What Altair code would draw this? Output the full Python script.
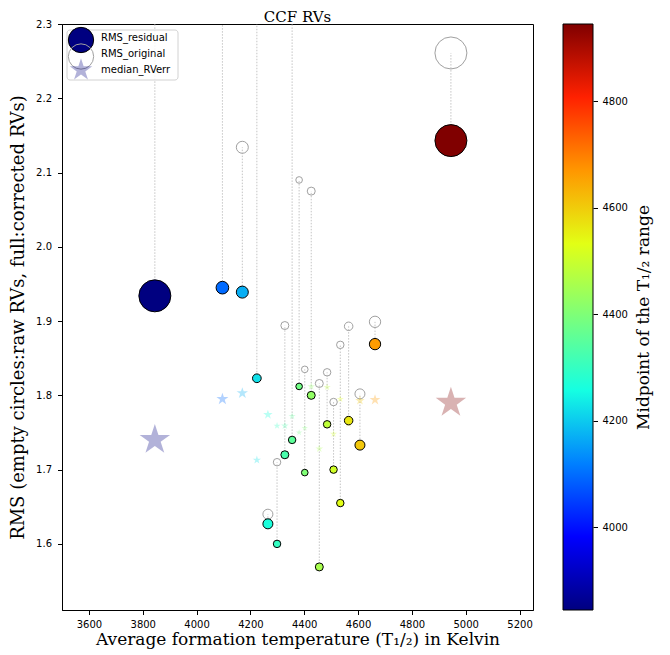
import altair as alt
import pandas as pd
import numpy as np

# Midpoint of each T_1/2 range (K)
temps = [3845, 4096, 4170, 4224, 4265, 4299, 4328, 4355, 4381, 4402,
         4426, 4456, 4485, 4509, 4534, 4565, 4607, 4663, 4945]
# RMS of corrected RVs (filled circles)
rms_residual = [1.934, 1.945, 1.939, 1.823, 1.627, 1.600, 1.720, 1.740, 1.812, 1.696,
                1.800, 1.569, 1.761, 1.700, 1.655, 1.766, 1.733, 1.869, 2.143]
# RMS of raw RVs (empty circles); several lie above the plotted range
rms_original = [2.45, 2.36, 2.134, 2.33, 1.640, 1.710, 1.894, 2.32, 2.090, 1.835,
                2.075, 1.816, 1.831, 1.791, 1.868, 1.893, 1.802, 1.899, 2.261]
# median RV error (stars)
median_rverr = [1.740, 1.795, 1.803, 1.713, 1.774, 1.759, 1.759, 1.772, 1.750, 1.756,
                1.812, 1.728, 1.811, 1.748, 1.795, 1.762, 1.793, 1.794, 1.790]
# relative weight of each bin (drives marker size)
n_lines = [256, 40, 36, 19, 25, 14, 16, 14, 11, 11,
           16, 16, 14, 14, 14, 18, 25, 32, 256]

x_ticks = [3600, 3800, 4000, 4200, 4400, 4600, 4800, 5000, 5200]
y_ticks = [1.6, 1.7, 1.8, 1.9, 2.0, 2.1, 2.2, 2.3]
cbar_ticks = [4000, 4200, 4400, 4600, 4800]

df = pd.DataFrame({
    "T": temps,
    "res": rms_residual,
    "orig": rms_original,
    "err": median_rverr,
    "n": n_lines,
})

STAR = ("M0,-1L0.2245,-0.309L0.9511,-0.309L0.3633,0.118L0.5878,0.809L0,0.382"
        "L-0.5878,0.809L-0.3633,0.118L-0.9511,-0.309L-0.2245,-0.309Z")

jet = ["#000080", "#0000ff", "#0080ff", "#15ffe2", "#7bff7b",
       "#e2ff15", "#ff9700", "#ff2100", "#800000"]
tmin, tmax = min(temps), max(temps)
jet_domain = [float(v) for v in np.linspace(tmin, tmax, len(jet))]
color_scale = alt.Scale(domain=jet_domain, range=jet, interpolate="rgb")
size_scale = alt.Scale(domain=[0, 256], range=[0, 1024])

W, H = 471, 586
TS, LP = 4.5, 4.5
xs = alt.Scale(domain=[3500, 5250], nice=False, zero=False)
ys = alt.Scale(domain=[1.511, 2.3], nice=False, zero=False)

X = alt.X("T:Q", scale=xs, axis=alt.Axis(
    values=x_ticks, title="Average formation temperature (T\u2081/\u2082) in Kelvin",
    grid=False, tickSize=TS, labelPadding=LP, titlePadding=2, titleFontSize=17, format="d"))
Y = alt.Y("res:Q", scale=ys, axis=alt.Axis(
    values=y_ticks, title="RMS (empty circles:raw RVs, full:corrected RVs)",
    grid=False, tickSize=TS, labelPadding=6, titlePadding=8, format=".1f"))

base = alt.Chart(df)

rules = base.mark_rule(color="#c4c4c4", strokeWidth=1, strokeDash=[1.5, 1.5], clip=True).encode(
    x=X, y=Y, y2="orig:Q")

empty = base.mark_point(shape="circle", filled=False, stroke="#a0a0a0", strokeWidth=1,
                        opacity=1, clip=True).encode(
    x="T:Q", y="orig:Q",
    size=alt.Size("n:Q", scale=size_scale, legend=None))

stars = base.mark_point(shape=STAR, filled=True, opacity=0.3, strokeWidth=0, clip=True).encode(
    x="T:Q", y="err:Q",
    fill=alt.Fill("T:Q", scale=color_scale, legend=None),
    size=alt.Size("n:Q", scale=size_scale, legend=None))

filled = base.mark_point(shape="circle", filled=True, stroke="black", strokeWidth=1,
                         opacity=1, clip=True).encode(
    x="T:Q", y="res:Q",
    fill=alt.Fill("T:Q", scale=color_scale, legend=None),
    size=alt.Size("n:Q", scale=size_scale, legend=None))

one = pd.DataFrame({"k": [0]})
lg = alt.Chart(one)
leg_box = lg.mark_rect(fill="white", stroke="#cccccc", strokeWidth=1, cornerRadius=3, opacity=0.85).encode(
    x=alt.value(5), x2=alt.value(116), y=alt.value(6), y2=alt.value(56))
leg_c1 = lg.mark_point(shape="circle", filled=True, fill="#000080", stroke="black", strokeWidth=1,
                       size=640, opacity=1).encode(x=alt.value(19), y=alt.value(16))
leg_c2 = lg.mark_point(shape="circle", filled=False, stroke="#a0a0a0", strokeWidth=1,
                       size=640, opacity=1).encode(x=alt.value(19), y=alt.value(32.5))
leg_c3 = lg.mark_point(shape=STAR, filled=True, fill="#000080", opacity=0.3, strokeWidth=0,
                       size=560).encode(x=alt.value(19), y=alt.value(46))
txt = dict(font="DejaVu Sans", fontSize=10, align="left", baseline="middle", color="black")
leg_t1 = lg.mark_text(text="RMS_residual", **txt).encode(x=alt.value(39), y=alt.value(14))
leg_t2 = lg.mark_text(text="RMS_original", **txt).encode(x=alt.value(39), y=alt.value(30))
leg_t3 = lg.mark_text(text="median_RVerr", **txt).encode(x=alt.value(39), y=alt.value(46))

main = alt.layer(rules, empty, stars, filled, leg_box, leg_c1, leg_c2, leg_c3,
                 leg_t1, leg_t2, leg_t3)

# colour bar: gradient strip + its own vertical axis on the right
grad = alt.LinearGradient(
    gradient="linear", x1=0, x2=0, y1=1, y2=0,
    stops=[alt.GradientStop(color=c, offset=i / (len(jet) - 1)) for i, c in enumerate(jet)])
cbar_rect = lg.mark_rect(fill=grad, stroke="black", strokeWidth=1).encode(
    x=alt.value(W + 30), x2=alt.value(W + 60), y=alt.value(0), y2=alt.value(H))
cbar_df = pd.DataFrame({"v": cbar_ticks})
cbar_axis = alt.Chart(cbar_df).mark_point(opacity=0).encode(
    x=alt.value(W + 45),
    y=alt.Y("v:Q", scale=alt.Scale(domain=[tmin, tmax], nice=False, zero=False),
            axis=alt.Axis(orient="right", offset=60, values=cbar_ticks, format="d",
                          grid=False, domain=False, tickSize=TS, labelPadding=LP,
                          title="Midpoint of the T\u2081/\u2082 range", titleAngle=270,
                          titlePadding=25, titleFontSize=17)))
cbar = alt.layer(cbar_rect, cbar_axis)

chart = alt.layer(main, cbar).resolve_scale(y="independent").properties(
    width=W, height=H,
    title=alt.TitleParams("CCF RVs", font="DejaVu Serif", fontSize=15, fontWeight="normal",
                          anchor="middle", frame="group", offset=6, dy=12, color="black"),
    autosize=alt.AutoSizeParams(type="none"),
    padding={"left": 54, "top": 16, "right": 125, "bottom": 40},
).configure_view(
    stroke="black", strokeWidth=1
).configure_axis(
    labelFont="DejaVu Sans", labelFontSize=10, labelColor="black",
    titleFont="DejaVu Serif", titleFontSize=18, titleFontWeight="normal", titleColor="black",
    domainColor="black", tickColor="black", domainWidth=1, tickWidth=1
)

chart.save("out.html", embed_options={"renderer": "svg", "actions": False})
